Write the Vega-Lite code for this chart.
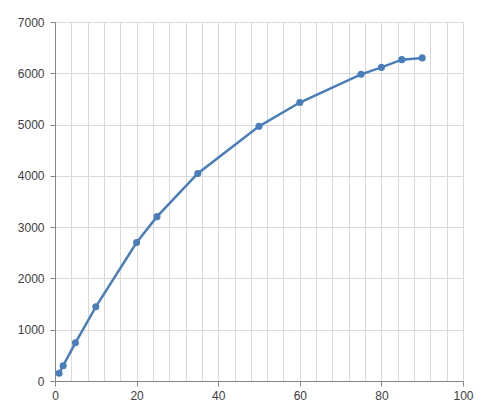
{
  "$schema": "https://vega.github.io/schema/vega-lite/v6.json",
  "width": 408,
  "height": 359,
  "autosize": {"type": "none"},
  "padding": {"left": 55, "top": 22, "right": 19, "bottom": 28},
  "background": "white",
  "config": {
    "view": {"stroke": null},
    "axis": {
      "labelFont": "Liberation Sans",
      "labelFontSize": 12,
      "labelColor": "#404040",
      "domainColor": "#868686",
      "tickColor": "#868686",
      "gridColor": "#d9d9d9",
      "gridWidth": 1,
      "title": null
    }
  },
  "data": {
    "values": [
      {"x": 1, "y": 152},
      {"x": 2, "y": 298},
      {"x": 5, "y": 745},
      {"x": 10, "y": 1447},
      {"x": 20, "y": 2700},
      {"x": 25, "y": 3205},
      {"x": 35, "y": 4046},
      {"x": 50, "y": 4965},
      {"x": 60, "y": 5430},
      {"x": 75, "y": 5980},
      {"x": 80, "y": 6115},
      {"x": 85, "y": 6266},
      {"x": 90, "y": 6300}
    ]
  },
  "encoding": {
    "x": {
      "field": "x",
      "type": "quantitative",
      "scale": {"domain": [0, 100], "nice": false},
      "axis": {
        "values": [0, 4, 8, 12, 16, 20, 24, 28, 32, 36, 40, 44, 48, 52, 56, 60, 64, 68, 72, 76, 80, 84, 88, 92, 96, 100],
        "format": "d",
        "labelExpr": "datum.value % 20 == 0 ? datum.label : ''",
        "tickSize": 5,
        "tickOpacity": {"condition": {"test": "datum.value % 20 == 0", "value": 1}, "value": 0},
        "labelPadding": 4,
        "labelFlush": false,
        "labelOverlap": false
      }
    },
    "y": {
      "field": "y",
      "type": "quantitative",
      "scale": {"domain": [0, 7000], "nice": false},
      "axis": {
        "values": [0, 1000, 2000, 3000, 4000, 5000, 6000, 7000],
        "format": "d",
        "tickSize": 5,
        "labelPadding": 6
      }
    }
  },
  "layer": [
    {"mark": {"type": "line", "color": "#4a7ebb", "strokeWidth": 2.5}},
    {"mark": {"type": "point", "filled": true, "color": "#4a7ebb", "opacity": 1, "size": 50}}
  ]
}
